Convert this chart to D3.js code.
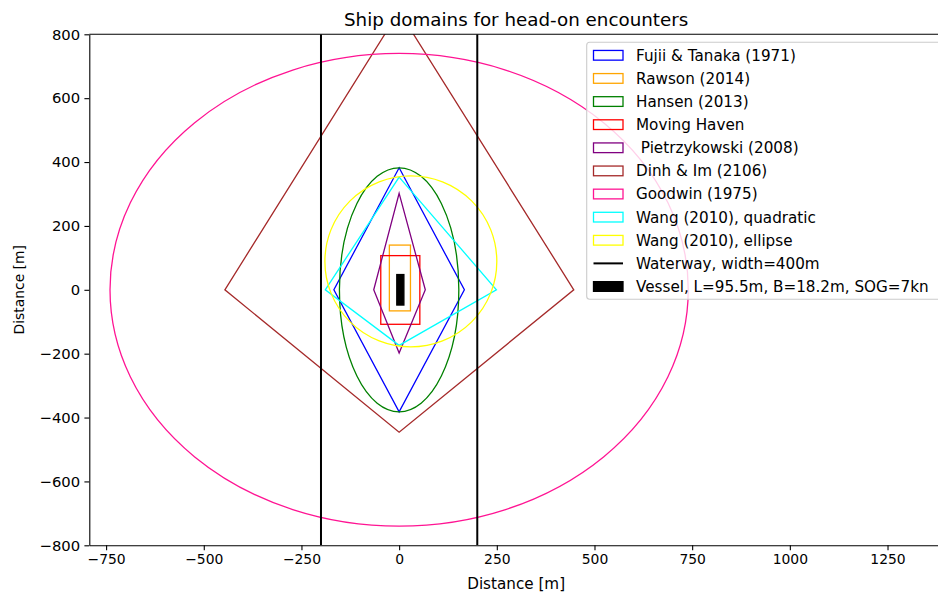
<!DOCTYPE html>
<html>
<head>
<meta charset="utf-8">
<script src="https://cdn.jsdelivr.net/npm/d3@7"></script>
<style>
  html, body { margin: 0; padding: 0; background: #fff; }
  svg { display: block; font-family: "DejaVu Sans", sans-serif; }
  text { fill: #000; }
</style>
</head>
<body>
<svg id="chart" width="938" height="593"></svg>
<script>
// Domain outlines in metres (x = lateral, y = along track), vessel at the origin.
const domainNames = [
  "Fujii & Tanaka (1971)", "Rawson (2014)", "Hansen (2013)", "Moving Haven",
  " Pietrzykowski (2008)", "Dinh & Im (2106)", "Goodwin (1975)",
  "Wang (2010), quadratic", "Wang (2010), ellipse"
];
const domainColors = ["blue", "orange", "green", "red", "purple", "brown", "deeppink", "cyan", "yellow"];

// Diamond-shaped domains: vertices [x, y]
const fujiiTanaka = [[0, 382], [167, 0], [0, -382], [-167, 0]];
const pietrzykowski = [[0, 302], [67, 0], [0, -198], [-65, 0]];
const dinhIm = [[0, 872], [447, 0], [0, -446], [-446, 0]];
const wangQuadratic = [[0, 353], [249, 0], [0, -174], [-189, 0]];

// Rectangular domains: [xMin, xMax, yMin, yMax]
const rawson = [-25, 29, -66, 140];
const movingHaven = [-47, 53, -108, 107];

// Elliptical domains: [cx, cy, rx, ry]
const hansen = [0, 0, 152.8, 382];
const goodwin = [0, 0, 740, 740];
const wangEllipse = [30, 89, 220, 268];

// Waterway edges (x positions) and the own vessel [xMin, xMax, yMin, yMax]
const waterway = [-200, 200];
const vessel = [-6, 12.2, -47.75, 47.75];
const waterwayLabel = "Waterway, width=400m";
const vesselLabel = "Vessel, L=95.5m, B=18.2m, SOG=7kn";

// Axis ticks
const xTicks = [-750, -500, -250, 0, 250, 500, 750, 1000, 1250];
const yTicks = [-800, -600, -400, -200, 0, 200, 400, 600, 800];
const xDomain = [-793, 1392];
const yDomain = [-800, 800];

const svg = d3.select("#chart");
const plotLeft = 89.3, plotRight = 943, plotTop = 34.3, plotBottom = 545.3;

const x = d3.scaleLinear().domain(xDomain).range([plotLeft, plotRight]);
const y = d3.scaleLinear().domain(yDomain).range([plotBottom, plotTop]);

svg.append("defs").append("clipPath").attr("id", "plotClip")
  .append("rect").attr("x", plotLeft).attr("y", plotTop)
  .attr("width", plotRight - plotLeft).attr("height", plotBottom - plotTop);

const plot = svg.append("g").attr("clip-path", "url(#plotClip)");
const lw = 1.3;

const polyPath = pts => "M" + pts.map(p => x(p[0]) + "," + y(p[1])).join("L") + "Z";
const drawPoly = (pts, color) => plot.append("path").attr("d", polyPath(pts))
  .attr("fill", "none").attr("stroke", color).attr("stroke-width", lw);
const drawRect = (r, color) => plot.append("rect")
  .attr("x", x(r[0])).attr("y", y(r[3]))
  .attr("width", x(r[1]) - x(r[0])).attr("height", y(r[2]) - y(r[3]))
  .attr("fill", "none").attr("stroke", color).attr("stroke-width", lw);
const drawEllipse = (e, color) => plot.append("ellipse")
  .attr("cx", x(e[0])).attr("cy", y(e[1]))
  .attr("rx", x(e[0] + e[2]) - x(e[0])).attr("ry", y(e[1]) - y(e[1] + e[3]))
  .attr("fill", "none").attr("stroke", color).attr("stroke-width", lw);

drawPoly(fujiiTanaka, domainColors[0]);
drawRect(rawson, domainColors[1]);
drawEllipse(hansen, domainColors[2]);
drawRect(movingHaven, domainColors[3]);
drawPoly(pietrzykowski, domainColors[4]);
drawPoly(dinhIm, domainColors[5]);
drawEllipse(goodwin, domainColors[6]);
drawPoly(wangQuadratic, domainColors[7]);
drawEllipse(wangEllipse, domainColors[8]);

plot.selectAll("line.waterway").data(waterway).enter().append("line")
  .attr("class", "waterway")
  .attr("x1", d => x(d)).attr("x2", d => x(d))
  .attr("y1", plotTop).attr("y2", plotBottom)
  .attr("stroke", "#000").attr("stroke-width", 2);

plot.append("rect")
  .attr("x", x(vessel[0])).attr("y", y(vessel[3]))
  .attr("width", x(vessel[1]) - x(vessel[0])).attr("height", y(vessel[2]) - y(vessel[3]))
  .attr("fill", "#000").attr("stroke", "#000").attr("stroke-width", lw);

// Axes
const fmt = d3.format("d");
const xAxis = svg.append("g").attr("transform", `translate(0,${plotBottom})`)
  .call(d3.axisBottom(x).tickValues(xTicks).tickFormat(fmt).tickSize(4.9).tickPadding(4.4).tickSizeOuter(0));
const yAxis = svg.append("g").attr("transform", `translate(${plotLeft},0)`)
  .call(d3.axisLeft(y).tickValues(yTicks).tickFormat(fmt).tickSize(4.9).tickPadding(4.2).tickSizeOuter(0));
xAxis.selectAll("text").attr("font-size", 13.9);
yAxis.selectAll("text").attr("font-size", 14.8);
[xAxis, yAxis].forEach(g => {
  g.selectAll("text").attr("font-family", "DejaVu Sans").attr("fill", "#000");
  g.selectAll("line").attr("stroke", "#000").attr("stroke-width", 1.1);
  g.select(".domain").attr("stroke", "#000").attr("stroke-width", 1.1);
});
// top spine
svg.append("line").attr("x1", plotLeft).attr("x2", plotRight).attr("y1", plotTop).attr("y2", plotTop)
  .attr("stroke", "#000").attr("stroke-width", 1.1);

svg.append("text").attr("x", (plotLeft + plotRight) / 2).attr("y", 589)
  .attr("text-anchor", "middle").attr("font-size", 15.2).text("Distance [m]");
svg.append("text").attr("transform", `translate(24,${(plotTop + plotBottom) / 2}) rotate(-90)`)
  .attr("text-anchor", "middle").attr("font-size", 13.9).text("Distance [m]");
svg.append("text").attr("x", (plotLeft + plotRight) / 2).attr("y", 26)
  .attr("text-anchor", "middle").attr("font-size", 18.3).text("Ship domains for head-on encounters");

// Legend
const legendFont = 15.2;
const legend = svg.append("g");
legend.append("rect").attr("x", 586.7).attr("y", 42.3).attr("width", 360).attr("height", 257)
  .attr("rx", 3).attr("fill", "#fff").attr("fill-opacity", 0.8)
  .attr("stroke", "#cccccc").attr("stroke-width", 1.1);
const rowY = i => 55.3 + i * 23.12;
const handleX = 593.5, handleW = 29.5, handleH = 9.7, textX = 636;
domainNames.forEach((name, i) => {
  legend.append("rect").attr("x", handleX).attr("y", rowY(i) - handleH / 2)
    .attr("width", handleW).attr("height", handleH)
    .attr("fill", "none").attr("stroke", domainColors[i]).attr("stroke-width", lw);
  legend.append("text").attr("x", textX).attr("y", rowY(i)).attr("dy", "0.36em")
    .attr("font-size", legendFont).style("white-space", "pre").text(name);
});
legend.append("line").attr("x1", handleX).attr("x2", handleX + handleW)
  .attr("y1", rowY(9)).attr("y2", rowY(9)).attr("stroke", "#000").attr("stroke-width", 2);
legend.append("text").attr("x", textX).attr("y", rowY(9)).attr("dy", "0.36em")
  .attr("font-size", legendFont).text(waterwayLabel);
legend.append("rect").attr("x", handleX).attr("y", rowY(10) - handleH / 2)
  .attr("width", handleW).attr("height", handleH)
  .attr("fill", "#000").attr("stroke", "#000").attr("stroke-width", lw);
legend.append("text").attr("x", textX).attr("y", rowY(10)).attr("dy", "0.36em")
  .attr("font-size", legendFont).text(vesselLabel);
</script>
</body>
</html>
